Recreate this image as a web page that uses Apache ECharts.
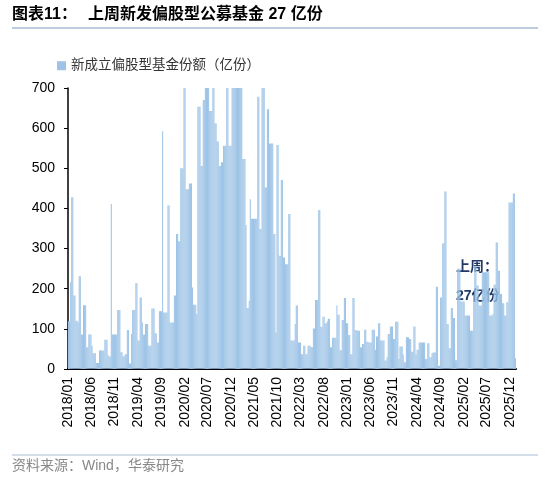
<!DOCTYPE html>
<html>
<head>
<meta charset="utf-8">
<script src="https://cdn.jsdelivr.net/npm/echarts/dist/echarts.min.js"></script>
<style>
html,body{margin:0;padding:0;background:#fff;}
#chart{width:550px;height:479px;}
</style>
</head>
<body>
<div id="chart"></div>
<script>
// Weekly values (亿份), first week ending 2018-01-05
const y2018 = [119,119,216,428,428,183,183,120,120,116,231,231,86,86,159,159,159,54,54,86,86,86,58,39,39,39,15,15,15,46,46,46,46,46,73,73,73,35,31,31,411,86,86,86,86,86,147,147,147,42,42,32];
const y2019 = [32,37,37,97,97,14,14,87,147,147,147,214,214,71,71,178,178,116,86,86,112,112,112,58,58,58,151,151,151,89,89,66,66,144,144,144,592,141,141,141,141,407,407,116,116,116,116,183,183,336,336,318];
const y2020 = [318,500,500,500,700,700,448,448,448,462,462,462,203,160,160,160,137,653,653,653,506,506,670,670,700,700,700,700,643,643,643,700,700,612,612,567,567,506,506,515,515,556,556,556,700,700,556,556,556,700,700,700];
const y2021 = [700,700,700,700,700,700,700,523,523,523,359,152,152,170,423,374,374,374,374,374,374,678,678,349,349,700,700,700,452,452,647,647,562,562,562,562,336,336,91,558,558,282,282,471,471,278,278,261,261,261,386,386,71];
const y2022 = [71,71,71,112,158,158,66,66,66,37,37,58,58,37,37,58,58,58,54,54,101,101,172,172,172,396,396,105,105,130,130,114,114,119,125,125,54,54,78,78,78,78,158,135,135,47,47,122,122,177,177,114];
const y2023 = [114,85,85,37,37,177,177,97,97,95,95,95,54,54,62,62,98,98,68,68,66,66,66,98,98,98,48,81,81,114,114,71,71,71,71,21,21,29,87,87,106,106,106,75,75,118,118,118,25,56,56,56];
const y2024 = [36,17,17,79,79,79,75,75,43,43,106,106,36,48,48,66,66,66,66,66,66,25,25,64,64,29,29,39,41,41,41,205,205,8,8,178,178,313,313,442,442,112,112,52,52,152,152,127,127,22,22,250];
const y2025 = [250,250,168,168,168,168,133,133,133,133,133,95,95,95,166,257,257,208,208,158,158,158,241,241,241,241,241,241,241,133,133,133,137,210,210,315,315,245,245,187,187,164,164,133,133,166,166,415,415,415,415,437];
const y2026 = [437,27];

const tickLabels = ['2018/01','2018/06','2018/11','2019/04','2019/09','2020/02','2020/07','2020/12','2021/05','2021/10','2022/03','2022/08','2023/01','2023/06','2023/11','2024/04','2024/09','2025/02','2025/07','2025/12'];
const yTicks = [0,100,200,300,400,500,600,700];
const seriesName = '新成立偏股型基金份额（亿份）';

const values = [].concat(y2018,y2019,y2020,y2021,y2022,y2023,y2024,y2025,y2026);
const start = Date.UTC(2018,0,5);
const categories = values.map(function(v,i){
  const d = new Date(start + i*7*86400000);
  return d.getUTCFullYear()+'-'+String(d.getUTCMonth()+1).padStart(2,'0')+'-'+String(d.getUTCDate()).padStart(2,'0');
});
const monthOf = c => c.slice(0,4)+'/'+c.slice(5,7);
const firstIdx = {};
categories.forEach((c,i)=>{const m=monthOf(c); if(!(m in firstIdx)) firstIdx[m]=i;});
const showIdx = new Set(tickLabels.map(t=>firstIdx[t]));

const FONT = '"Liberation Sans", Arial, "Noto Sans CJK SC", sans-serif';
const chart = echarts.init(document.getElementById('chart'), null, {renderer:'canvas'});
chart.setOption({
  animation:false,
  backgroundColor:'#fff',
  grid:{left:68,right:34,top:88,bottom:110,containLabel:false},
  legend:{
    data:[seriesName], left:52, top:54, icon:'rect', itemWidth:9, itemHeight:9, itemGap:4,
    textStyle:{fontSize:13.5,color:'#333',fontFamily:FONT}
  },
  xAxis:{
    type:'category', data:categories, boundaryGap:true,
    axisLine:{lineStyle:{color:'#000',width:2}},
    axisTick:{show:false},
    axisLabel:{
      interval:function(i){return showIdx.has(i);},
      formatter:function(v){return monthOf(v);},
      rotate:90, fontSize:14, color:'#000', margin:8, fontFamily:FONT
    },
    splitLine:{show:false}
  },
  yAxis:{
    type:'value', min:yTicks[0], max:yTicks[yTicks.length-1], interval:100,
    axisLine:{show:true,lineStyle:{color:'#000',width:1.5}},
    axisTick:{show:true,length:4,lineStyle:{color:'#000'}},
    axisLabel:{fontSize:14,color:'#000',margin:13,fontFamily:FONT},
    splitLine:{show:false}
  },
  series:[{
    name:seriesName, type:'bar', data:values,
    itemStyle:{color:'#9DC3E6'}, barCategoryGap:'3%', clip:true
  }],
  graphic:[
    {type:'text',left:12,top:7,style:{text:'图表11：',font:'bold 16px '+FONT,fill:'#000'}},
    {type:'text',left:88,top:7,style:{text:'上周新发偏股型公募基金 27 亿份',font:'bold 16px '+FONT,fill:'#000'}},
    {type:'line',shape:{x1:12,y1:28,x2:538,y2:28},style:{stroke:'#A7BCD3',lineWidth:1.5}},
    {type:'line',shape:{x1:12,y1:455,x2:538,y2:455},style:{stroke:'#A7BCD3',lineWidth:1}},
    {type:'text',left:12,top:459,style:{text:'资料来源：Wind，华泰研究',font:'14px '+FONT,fill:'#888'}},
    {type:'text',left:456,top:260,style:{text:'上周：',font:'bold 14px '+FONT,fill:'#1F3864'}},
    {type:'text',left:456,top:289,style:{text:'27亿份',font:'bold 14px '+FONT,fill:'#1F3864'}}
  ]
});
</script>
</body>
</html>
